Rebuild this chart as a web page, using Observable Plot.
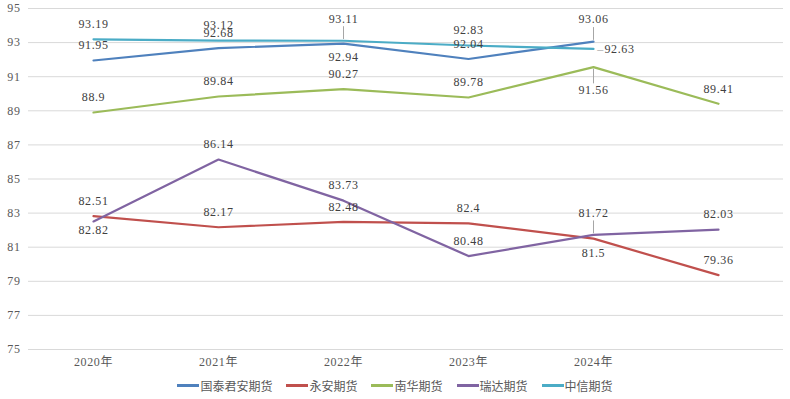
<!DOCTYPE html>
<html>
<head>
<meta charset="utf-8">
<script src="https://cdn.jsdelivr.net/npm/d3@7"></script>
<script src="https://cdn.jsdelivr.net/npm/@observablehq/plot@0.6"></script>
<style>
  body { margin: 0; background: #fff; width: 790px; height: 399px; overflow: hidden; }
  #chart svg { display: block; }
  #legend { display: flex; justify-content: center; align-items: center; height: 27px; margin-top: 0;
    font-family: "Noto Sans CJK SC", sans-serif; font-size: 12px; color: #595959; }
  .item { display: flex; align-items: center; margin: 0 7px; }
  .sw { width: 22px; height: 2.5px; margin-right: 1px; }
</style>
</head>
<body>
<div id="chart"></div>
<div id="legend"></div>
<script>
const categories = ["2020年", "2021年", "2022年", "2023年", "2024年", ""];
const seriesNames = ["国泰君安期货", "永安期货", "南华期货", "瑞达期货", "中信期货"];
const seriesColors = ["#4F81BD", "#C0504D", "#9BBB59", "#8064A2", "#4BACC6"];
const yTicks = [75, 77, 79, 81, 83, 85, 87, 89, 91, 93, 95];

const guotaijunan = [91.95, 92.68, 92.94, 92.04, 93.06];
const yongan = [82.82, 82.17, 82.48, 82.4, 81.5, 79.36];
const nanhua = [88.9, 89.84, 90.27, 89.78, 91.56, 89.41];
const ruida = [82.51, 86.14, 83.73, 80.48, 81.72, 82.03];
const zhongxin = [93.19, 93.12, 93.11, 92.83, 92.63];

// label placement codes: t above, u higher, b below, T above with leader, B below with leader, r right with leader
const guotaijunanLabelPos = ["t", "t", "b", "t", "T"];
const yonganLabelPos = ["b", "t", "t", "t", "b", "t"];
const nanhuaLabelPos = ["t", "t", "t", "t", "B", "t"];
const ruidaLabelPos = ["u", "t", "t", "t", "T", "t"];
const zhongxinLabelPos = ["t", "t", "T", "t", "r"];

const seriesValues = [guotaijunan, yongan, nanhua, ruida, zhongxin];
const seriesPos = [guotaijunanLabelPos, yonganLabelPos, nanhuaLabelPos, ruidaLabelPos, zhongxinLabelPos];

const rows = [];
seriesValues.forEach((vals, si) => {
  vals.forEach((v, i) => {
    rows.push({series: seriesNames[si], cat: categories[i], value: v, pos: seriesPos[si][i]});
  });
});

const dyFor = {t: -15, u: -20, b: 14, T: -22, B: 23, r: 0};
const font = "'Liberation Serif','Noto Sans CJK SC',serif";

const textFor = code => rows.filter(d => d.pos === code);

const labelMarks = Object.keys(dyFor).filter(k => k !== "r").map(code =>
  Plot.text(textFor(code), {
    x: "cat", y: "value", text: d => String(d.value), dy: dyFor[code],
    fill: "#404040", fontSize: 12, fontFamily: font
  })
);

const leaderUp = rows.filter(d => d.pos === "T");
const leaderDown = rows.filter(d => d.pos === "B");
const rightLabels = rows.filter(d => d.pos === "r");

const chart = Plot.plot({
  width: 790,
  height: 372,
  marginLeft: 28,
  marginRight: 7,
  marginTop: 8,
  marginBottom: 23,
  style: {fontFamily: font, fontSize: "12px", color: "#595959", background: "white", letterSpacing: "0.6px"},
  x: {type: "point", domain: categories, padding: 0.5, label: null, tickSize: 0, tickPadding: 8},
  y: {domain: [75, 95], ticks: yTicks, label: null, tickSize: 0, tickPadding: 8},
  color: {domain: seriesNames, range: seriesColors},
  marks: [
    Plot.ruleY(yTicks, {stroke: "#d9d9d9", strokeWidth: 1}),
    Plot.line(rows, {x: "cat", y: "value", z: "series", stroke: "series", strokeWidth: 2.2}),
    Plot.link(leaderUp, {x1: "cat", x2: "cat", y1: d => d.value + 0.1, y2: d => d.value + 0.85, stroke: "#a6a6a6", strokeWidth: 1}),
    Plot.link(leaderDown, {x1: "cat", x2: "cat", y1: d => d.value - 0.1, y2: d => d.value - 0.95, stroke: "#a6a6a6", strokeWidth: 1}),
    Plot.text(rightLabels, {x: "cat", y: "value", text: () => "–", dx: 7, fill: "#a6a6a6", fontSize: 12, fontFamily: font}),
    Plot.text(rightLabels, {x: "cat", y: "value", text: d => String(d.value), dx: 11, textAnchor: "start", fill: "#404040", fontSize: 12, fontFamily: font}),
    ...labelMarks
  ]
});
document.getElementById("chart").appendChild(chart);

const legend = document.getElementById("legend");
seriesNames.forEach((name, i) => {
  const item = document.createElement("div");
  item.className = "item";
  const sw = document.createElement("div");
  sw.className = "sw";
  sw.style.background = seriesColors[i];
  const t = document.createElement("span");
  t.textContent = name;
  item.appendChild(sw);
  item.appendChild(t);
  legend.appendChild(item);
});
</script>
</body>
</html>
